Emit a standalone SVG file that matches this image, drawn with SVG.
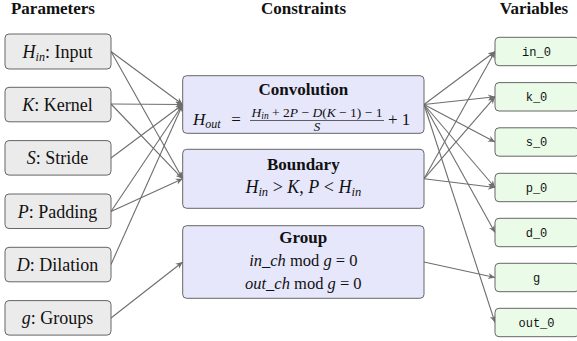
<svg xmlns="http://www.w3.org/2000/svg" width="577" height="341" viewBox="0 0 577 341">
<style>
svg text.s, svg text.s tspan{font-family:'Liberation Serif',serif !important}
svg text.mono{font-family:'Liberation Mono',monospace !important;font-size:12px;text-anchor:middle}
.h{font-size:17px;font-weight:bold;text-anchor:middle}
.lab{font-size:18px;text-anchor:middle}
.i{font-style:italic}
.pbox{fill:#ebebeb;stroke:#666;stroke-width:1}
.cbox{fill:#e7e7fb;stroke:#666;stroke-width:1}
.vbox{fill:#eafbe8;stroke:#666;stroke-width:1}
.e{stroke:#6e6e6e;stroke-width:1.1;fill:none;marker-end:url(#ah)}
</style>
<defs>
<marker id="ah" viewBox="0 0 10 10" refX="10" refY="5" markerWidth="8" markerHeight="7" orient="auto" markerUnits="userSpaceOnUse">
<path d="M0,0.5 L10,5 L0,9.5 L3,5 z" fill="#6e6e6e"/>
</marker>
</defs>
<rect width="577" height="341" fill="#fff"/>
<g fill="#111">
<text class="s h" font-family="Liberation Serif" x="53" y="14">Parameters</text>
<text class="s h" font-family="Liberation Serif" x="303.5" y="14">Constraints</text>
<text class="s h" font-family="Liberation Serif" x="534" y="14">Variables</text>
</g>

<g id="connectors">
<line class="e" x1="111" y1="51.5" x2="182.7" y2="104.5"/>
<line class="e" x1="111" y1="51.5" x2="182.7" y2="178.8"/>
<line class="e" x1="111" y1="104" x2="182.7" y2="104.5"/>
<line class="e" x1="111" y1="104" x2="182.7" y2="178.8"/>
<line class="e" x1="111" y1="158" x2="182.7" y2="104.5"/>
<line class="e" x1="111" y1="211.5" x2="182.7" y2="104.5"/>
<line class="e" x1="111" y1="211.5" x2="182.7" y2="178.8"/>
<line class="e" x1="111" y1="264.5" x2="182.7" y2="104.5"/>
<line class="e" x1="111" y1="318" x2="182.7" y2="262"/>
<line class="e" x1="424" y1="104.5" x2="495" y2="51.5"/>
<line class="e" x1="424" y1="104.5" x2="495" y2="96.8"/>
<line class="e" x1="424" y1="104.5" x2="495" y2="142"/>
<line class="e" x1="424" y1="104.5" x2="495" y2="187.5"/>
<line class="e" x1="424" y1="104.5" x2="495" y2="232.5"/>
<line class="e" x1="424" y1="104.5" x2="495" y2="322.5"/>
<line class="e" x1="424" y1="178.8" x2="495" y2="51.5"/>
<line class="e" x1="424" y1="178.8" x2="495" y2="96.8"/>
<line class="e" x1="424" y1="178.8" x2="495" y2="187.5"/>
<line class="e" x1="424" y1="262" x2="495" y2="277.5"/>
</g>

<g id="p_hin" fill="#111"><rect class="pbox" x="5" y="34" width="106" height="35" rx="4"/>
<text class="s lab" font-family="Liberation Serif" x="57.5" y="57.5"><tspan class="i">H</tspan><tspan class="i" font-size="12" dy="3.5">in</tspan><tspan dy="-3.5">: Input</tspan></text></g>
<g id="p_k" fill="#111"><rect class="pbox" x="5" y="87.3" width="106" height="34.5" rx="4"/>
<text class="s lab" font-family="Liberation Serif" x="57.5" y="110.5"><tspan class="i">K</tspan>: Kernel</text></g>
<g id="p_s" fill="#111"><rect class="pbox" x="5" y="140.6" width="106" height="34.5" rx="4"/>
<text class="s lab" font-family="Liberation Serif" x="57.5" y="164"><tspan class="i">S</tspan>: Stride</text></g>
<g id="p_p" fill="#111"><rect class="pbox" x="5" y="194" width="106" height="34.5" rx="4"/>
<text class="s lab" font-family="Liberation Serif" x="57.5" y="217.5"><tspan class="i">P</tspan>: Padding</text></g>
<g id="p_d" fill="#111"><rect class="pbox" x="5" y="247.3" width="106" height="34.5" rx="4"/>
<text class="s lab" font-family="Liberation Serif" x="57.5" y="270.5"><tspan class="i">D</tspan>: Dilation</text></g>
<g id="p_g" fill="#111"><rect class="pbox" x="5" y="300.6" width="106" height="34.5" rx="4"/>
<text class="s lab" font-family="Liberation Serif" x="57.5" y="324"><tspan class="i">g</tspan>: Groups</text></g>

<g id="c_conv" fill="#111"><rect class="cbox" x="182.7" y="75.7" width="241.3" height="57.6" rx="4"/>
<text class="s h" font-family="Liberation Serif" x="303.3" y="95">Convolution</text>
<text class="s i" font-family="Liberation Serif" x="193" y="125" font-size="17">H<tspan font-size="12" dy="3">out</tspan></text>
<text class="s" font-family="Liberation Serif" x="236" y="125" font-size="17" text-anchor="middle">=</text>
<text class="s" font-family="Liberation Serif" x="317" y="116.5" font-size="13.5" text-anchor="middle"><tspan class="i">H</tspan><tspan class="i" font-size="9.5" dy="2.5">in</tspan><tspan dy="-2.5"> + 2</tspan><tspan class="i">P</tspan> − <tspan class="i">D</tspan>(<tspan class="i">K</tspan> − 1) − 1</text>
<line x1="250" y1="120.5" x2="384" y2="120.5" stroke="#222" stroke-width="0.7"/>
<text class="s i" font-family="Liberation Serif" x="317" y="131" font-size="13" text-anchor="middle">S</text>
<text class="s" font-family="Liberation Serif" x="388" y="125" font-size="17">+ 1</text>
</g>
<g id="c_bound" fill="#111"><rect class="cbox" x="182.7" y="149.3" width="241.3" height="59" rx="4"/>
<text class="s h" font-family="Liberation Serif" x="303.3" y="169.5">Boundary</text>
<text class="s" font-family="Liberation Serif" x="303.3" y="193" font-size="18" text-anchor="middle"><tspan class="i">H</tspan><tspan class="i" font-size="12.5" dy="3">in</tspan><tspan dy="-3"> &gt; </tspan><tspan class="i">K</tspan>, <tspan class="i">P</tspan> &lt; <tspan class="i">H</tspan><tspan class="i" font-size="12.5" dy="3">in</tspan></text>
</g>
<g id="c_group" fill="#111"><rect class="cbox" x="182.7" y="225.7" width="241.3" height="72.6" rx="4"/>
<text class="s h" font-family="Liberation Serif" x="303.3" y="243">Group</text>
<text class="s" font-family="Liberation Serif" x="303.3" y="266" font-size="16.5" text-anchor="middle"><tspan class="i">in_ch</tspan> mod <tspan class="i">g</tspan> = 0</text>
<text class="s" font-family="Liberation Serif" x="303.3" y="289" font-size="16.5" text-anchor="middle"><tspan class="i">out_ch</tspan> mod <tspan class="i">g</tspan> = 0</text>
</g>

<g fill="#111">
<g id="v_in0"><rect class="vbox" x="495" y="37.3" width="84" height="28.4" rx="4"/><text class="mono" font-family="Liberation Mono" x="536.5" y="55.5">in_0</text></g>
<g id="v_k0"><rect class="vbox" x="495" y="82.6" width="84" height="28.4" rx="4"/><text class="mono" font-family="Liberation Mono" x="536.5" y="100.8">k_0</text></g>
<g id="v_s0"><rect class="vbox" x="495" y="127.8" width="84" height="28.4" rx="4"/><text class="mono" font-family="Liberation Mono" x="536.5" y="146">s_0</text></g>
<g id="v_p0"><rect class="vbox" x="495" y="173.3" width="84" height="28.4" rx="4"/><text class="mono" font-family="Liberation Mono" x="536.5" y="191.5">p_0</text></g>
<g id="v_d0"><rect class="vbox" x="495" y="218.3" width="84" height="28.4" rx="4"/><text class="mono" font-family="Liberation Mono" x="536.5" y="236.5">d_0</text></g>
<g id="v_g"><rect class="vbox" x="495" y="263.3" width="84" height="28.4" rx="4"/><text class="mono" font-family="Liberation Mono" x="536.5" y="281.5">g</text></g>
<g id="v_out0"><rect class="vbox" x="495" y="308.3" width="84" height="28.4" rx="4"/><text class="mono" font-family="Liberation Mono" x="536.5" y="326.5">out_0</text></g>
</g>
</svg>
